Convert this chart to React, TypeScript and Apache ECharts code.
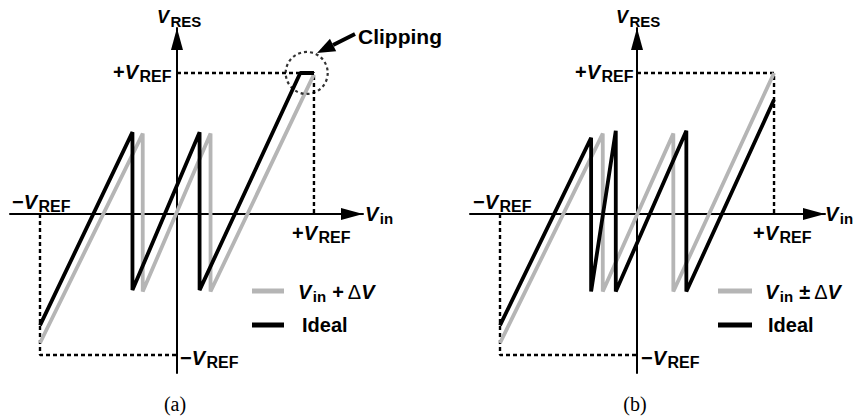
import { useEffect, useRef } from 'react';
import * as echarts from 'echarts';

// Residue transfer curves, in units of V_REF: [Vin, Vres]
const shiftedA: [number, number][] = [[-1, -0.915], [-0.25, 0.57], [-0.25, -0.55], [0.245, 0.57], [0.245, -0.55], [1, 0.99]];
const idealA: [number, number][] = [[-1, -0.79], [-0.325, 0.58], [-0.325, -0.54], [0.165, 0.58], [0.165, -0.54], [0.9, 1], [1, 1]];
const shiftedB: [number, number][] = [[-1, -0.915], [-0.25, 0.57], [-0.25, -0.55], [0.265, 0.57], [0.265, -0.55], [1, 1]];
const idealB: [number, number][] = [[-1, -0.79], [-0.335, 0.54], [-0.335, -0.55], [-0.155, 0.59], [-0.155, -0.55], [0.36, 0.59], [0.36, -0.55], [1, 0.81]];

// Dotted ±V_REF box corners
const refUpper: [number, number][] = [[0, 1], [1, 1], [1, 0]];
const refLower: [number, number][] = [[-1, 0], [-1, -1], [0, -1]];
// Centre of the "clipping" ring
const clipMark: [number, number][] = [[0.947, 1]];

const X_MIN = -1.219;
const Y_MIN = -1.128;
const Y_MAX = 1.319;

const SANS = '"Liberation Sans", Arial, Helvetica, sans-serif';
const SERIF = '"Liberation Serif", "Times New Roman", serif';
const GRAY = '#b5b5b5';

let measureCtx: CanvasRenderingContext2D | null = null;
function textWidth(font: string, text: string): number {
  if (!measureCtx) measureCtx = document.createElement('canvas').getContext('2d');
  measureCtx!.font = font;
  return measureCtx!.measureText(text).width;
}

type Piece = [string, 'v' | 's' | 'b' | 'g', number?];

// Symbol-style label: italic V, bold subscripts, bold signs
function mathLabel(x: number, y: number, pieces: Piece[], m = 20, s = 16) {
  const out: any[] = [];
  let cx = x;
  for (const [t, k, gap = 0] of pieces) {
    cx += gap;
    const font =
      k === 'v' ? `italic bold ${m}px ${SANS}` :
      k === 's' ? `bold ${s}px ${SANS}` :
      k === 'b' ? `bold ${m}px ${SANS}` :
      `${m}px ${SANS}`;
    const dy = k === 's' ? Math.round(m * 0.22) : 0;
    out.push({
      type: 'text', x: cx, y: y + dy, silent: true,
      style: { text: t, font, fill: '#000', align: 'left', verticalAlign: 'middle' },
    });
    cx += textWidth(font, t);
  }
  return out;
}

const VREF = (sign: string): Piece[] => [[sign, 'b'], ['V', 'v'], ['REF', 's', 1.5]];
const VRES: Piece[] = [['V', 'v'], ['RES', 's', 1.5]];
const VIN: Piece[] = [['V', 'v'], ['in', 's', 1.5]];

function axisPair(gridIndex: number, xMax: number) {
  const line = { show: true, onZero: true, symbol: ['none', 'triangle'], symbolSize: [12, 22], symbolOffset: [0, -11], lineStyle: { color: '#000', width: 2 } };
  return {
    x: { type: 'value', gridIndex, min: X_MIN, max: xMax, axisLine: line, axisTick: { show: false }, axisLabel: { show: false }, splitLine: { show: false } },
    y: { type: 'value', gridIndex, min: Y_MIN, max: Y_MAX, axisLine: line, axisTick: { show: false }, axisLabel: { show: false }, splitLine: { show: false } },
  };
}

function curve(name: string, data: [number, number][], idx: number, color: string, z: number) {
  return {
    type: 'line', name, data, xAxisIndex: idx, yAxisIndex: idx, symbol: 'none', silent: true, z,
    lineStyle: { color, width: 3.8, cap: 'butt' },
  };
}

function dashed(data: [number, number][], idx: number) {
  return {
    type: 'line', data, xAxisIndex: idx, yAxisIndex: idx, symbol: 'none', silent: true, z: 1,
    lineStyle: { color: '#000', width: 2.4, type: [4, 3] },
  };
}

export default function App() {
  const ref = useRef<HTMLDivElement>(null);

  useEffect(() => {
    if (!ref.current) return;
    const chart = echarts.init(ref.current, undefined, { renderer: 'svg' });
    const a = axisPair(0, 1.358);
    const b = axisPair(1, 1.372);

    const arrowTip = [317, 53];
    const from = [355, 34];
    const len = Math.hypot(arrowTip[0] - from[0], arrowTip[1] - from[1]);
    const ux = (arrowTip[0] - from[0]) / len;
    const uy = (arrowTip[1] - from[1]) / len;
    const base = [arrowTip[0] - 18 * ux, arrowTip[1] - 18 * uy];
    const nx = -uy, ny = ux;

    const graphics: any[] = [
      // panel (a) labels
      ...mathLabel(157, 17, VRES, 18, 15),
      ...mathLabel(113, 72, VREF('+')),
      ...mathLabel(12, 202, VREF('−')),
      ...mathLabel(365, 214, VIN, 20, 15),
      ...mathLabel(292, 233, VREF('+')),
      ...mathLabel(180, 358, VREF('−')),
      // panel (b) labels
      ...mathLabel(616, 17, VRES, 18, 15),
      ...mathLabel(575, 72, VREF('+')),
      ...mathLabel(473, 202, VREF('−')),
      ...mathLabel(825, 214, VIN, 20, 15),
      ...mathLabel(753, 233, VREF('+')),
      ...mathLabel(641, 358, VREF('−')),
      // legends
      { type: 'line', silent: true, shape: { x1: 252, y1: 291, x2: 284, y2: 291 }, style: { stroke: GRAY, lineWidth: 5 } },
      { type: 'line', silent: true, shape: { x1: 252, y1: 325, x2: 284, y2: 325 }, style: { stroke: '#000', lineWidth: 5 } },
      ...mathLabel(298, 292, [['V', 'v'], ['in', 's', 1.5], ['+', 'b', 6], ['Δ', 'g', 4], ['V', 'v', 0]], 20, 15),
      { type: 'text', x: 302, y: 325, silent: true, style: { text: 'Ideal', font: `bold 20px ${SANS}`, fill: '#000', verticalAlign: 'middle' } },
      { type: 'line', silent: true, shape: { x1: 718, y1: 291, x2: 752, y2: 291 }, style: { stroke: GRAY, lineWidth: 5 } },
      { type: 'line', silent: true, shape: { x1: 718, y1: 325, x2: 752, y2: 325 }, style: { stroke: '#000', lineWidth: 5 } },
      ...mathLabel(765, 292, [['V', 'v'], ['in', 's', 1.5], ['±', 'b', 6], ['Δ', 'g', 4], ['V', 'v', 0]], 20, 15),
      { type: 'text', x: 768, y: 325, silent: true, style: { text: 'Ideal', font: `bold 20px ${SANS}`, fill: '#000', verticalAlign: 'middle' } },
      // clipping callout
      { type: 'text', x: 358, y: 36, silent: true, style: { text: 'Clipping', font: `bold 21px ${SANS}`, fill: '#000', verticalAlign: 'middle' } },
      { type: 'line', silent: true, shape: { x1: from[0], y1: from[1], x2: base[0], y2: base[1] }, style: { stroke: '#000', lineWidth: 4 } },
      {
        type: 'polygon', silent: true,
        shape: { points: [arrowTip, [base[0] + 7 * nx, base[1] + 7 * ny], [base[0] - 7 * nx, base[1] - 7 * ny]] },
        style: { fill: '#000' },
      },
      // captions
      { type: 'text', x: 175, y: 404, silent: true, style: { text: '(a)', font: `20px ${SERIF}`, fill: '#000', align: 'center', verticalAlign: 'middle' } },
      { type: 'text', x: 635, y: 404, silent: true, style: { text: '(b)', font: `20px ${SERIF}`, fill: '#000', align: 'center', verticalAlign: 'middle' } },
    ];

    chart.setOption({
      animation: false,
      backgroundColor: '#fff',
      grid: [
        { left: 10, top: 28, width: 353, height: 345 },
        { left: 470, top: 28, width: 355, height: 345 },
      ],
      xAxis: [a.x, b.x],
      yAxis: [a.y, b.y],
      series: [
        dashed(refUpper, 0),
        dashed(refLower, 0),
        dashed(refUpper, 1),
        dashed(refLower, 1),
        curve('Vin + ΔV', shiftedA, 0, GRAY, 2),
        curve('Ideal', idealA, 0, '#000', 3),
        curve('Vin ± ΔV', shiftedB, 1, GRAY, 2),
        curve('Ideal', idealB, 1, '#000', 3),
        {
          type: 'scatter', data: clipMark, xAxisIndex: 0, yAxisIndex: 0, symbol: 'circle', symbolSize: 42, silent: true, z: 4,
          itemStyle: { color: 'rgba(0,0,0,0)', borderColor: '#000', borderWidth: 2.2, borderType: [3, 3] },
        },
      ],
      graphic: graphics,
    });
    return () => chart.dispose();
  }, []);

  return <div ref={ref} style={{ position: 'fixed', left: 0, top: 0, width: 856, height: 420, background: '#fff' }} />;
}
